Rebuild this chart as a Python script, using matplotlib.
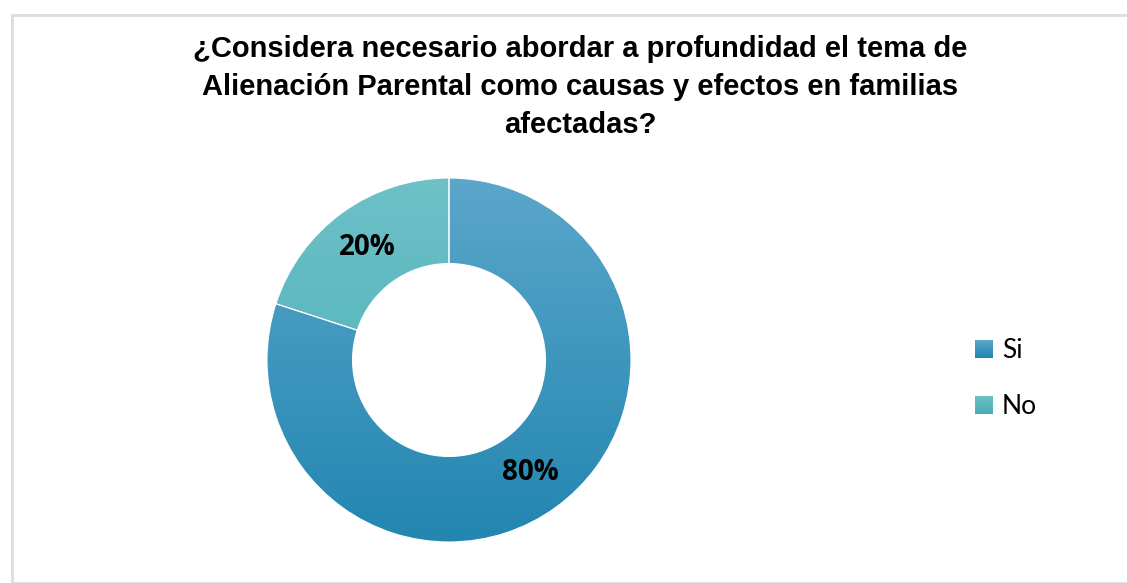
import numpy as np
import matplotlib
matplotlib.use('Agg')
from matplotlib import pyplot as plt
from matplotlib.colors import LinearSegmentedColormap
from matplotlib.patches import Rectangle

# datos
labels = ['Si', 'No']
values = [80, 20]
top_colors = ['#5ba6ca', '#6dc1c7']
bottom_colors = ['#2286b0', '#47acb6']
titulo = ('¿Considera necesario abordar a profundidad el tema de\n'
          'Alienación Parental como causas y efectos en familias\n'
          'afectadas?')

W, H = 1127, 583
fig = plt.figure(figsize=(W / 100, H / 100), dpi=100)
fig.patch.set_facecolor('white')

# marco gris claro
fig.patches.append(Rectangle((12 / W, 0), 1, 1 - 15 / H, transform=fig.transFigure,
                             fill=False, edgecolor='#dcdce3', linewidth=2))

cx, cy, r = 449, 360, 182
ax = fig.add_axes([(cx - r) / W, (H - cy - r) / H, 2 * r / W, 2 * r / H])
ax.set_xlim(-1, 1)
ax.set_ylim(-1, 1)
ax.set_aspect('equal')
ax.axis('off')

wedges, texts, autotexts = ax.pie(values, startangle=90, counterclock=False, radius=1,
                                  autopct='%d%%', pctdistance=0.765,
                                  wedgeprops=dict(width=0.47, edgecolor='white', linewidth=0.8),
                                  textprops=dict(fontsize=20, fontweight='bold',
                                                 family=['Open Sans', 'DejaVu Sans']))

# degradado vertical en cada sector
grad = np.linspace(1, 0, 256).reshape(-1, 1)
for w, ct, cb in zip(wedges, top_colors, bottom_colors):
    cmap = LinearSegmentedColormap.from_list('g', [cb, ct])
    im = ax.imshow(grad, cmap=cmap, extent=(-1, 1, -1, 1), aspect='auto',
                   origin='upper', zorder=0.5, vmin=0, vmax=1)
    im.set_clip_path(w)
    w.set_facecolor('none')
    w.set_zorder(1)
for t in autotexts:
    t.set_zorder(3)
ax.set_xlim(-1, 1)
ax.set_ylim(-1, 1)

fig.text(580 / W, 1 - 87 / H, titulo, ha='center', va='center', fontsize=21,
         fontweight='bold', family=['Liberation Sans', 'DejaVu Sans'], linespacing=1.44)

# leyenda
for i, (lab, ct, cb) in enumerate(zip(labels, top_colors, bottom_colors)):
    y = 349 + i * 56
    lax = fig.add_axes([975 / W, 1 - (y + 9) / H, 18 / W, 18 / H])
    lax.imshow(grad, cmap=LinearSegmentedColormap.from_list('g', [cb, ct]),
               aspect='auto', vmin=0, vmax=1)
    lax.axis('off')
    fig.text(1002 / W, 1 - (y + 1) / H, lab, ha='left', va='center', fontsize=19,
             family=['Lato', 'DejaVu Sans'])

fig.savefig('out.png', dpi=100)
